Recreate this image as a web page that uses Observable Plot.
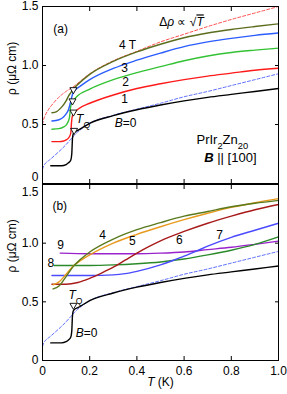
<!DOCTYPE html>
<html><head><meta charset="utf-8">
<script src="https://cdn.jsdelivr.net/npm/d3@7"></script>
<script src="https://cdn.jsdelivr.net/npm/@observablehq/plot@0.6"></script>
<style>body{margin:0;background:#fff;} #chart svg{display:block;}</style>
</head><body><div id="chart"></div>
<script>
// ---------- tick labels ----------
const xTicks = [0, 0.2, 0.4, 0.6, 0.8, 1.0];
const yTicks = [0, 0.5, 1.0, 1.5];

// ---------- panel (a): B || [100], B = 0..4 T ----------
const Ta_B0 = [0.035,0.06,0.08,0.1,0.11,0.12,0.124,0.127,0.13,0.135,0.15,0.2,0.3,0.4,0.5,0.6,0.7,0.8,0.9,1.0];
const Ra_B0 = [0.15,0.15,0.15,0.16,0.175,0.2,0.25,0.38,0.42,0.435,0.45,0.51,0.575,0.625,0.665,0.70,0.73,0.755,0.78,0.805];
const Ta_B1 = [0.04,0.07,0.09,0.1,0.11,0.115,0.12,0.123,0.127,0.135,0.15,0.2,0.3,0.4,0.5,0.6,0.7,0.8,0.9,1.0];
const Ra_B1 = [0.355,0.355,0.36,0.37,0.385,0.40,0.43,0.52,0.575,0.60,0.63,0.68,0.75,0.805,0.845,0.88,0.91,0.935,0.96,0.977];
const Ta_B2 = [0.04,0.07,0.09,0.1,0.105,0.11,0.115,0.118,0.122,0.13,0.15,0.2,0.3,0.4,0.5,0.6,0.7,0.8,0.9,1.0];
const Ra_B2 = [0.46,0.465,0.48,0.495,0.51,0.53,0.57,0.63,0.675,0.70,0.745,0.80,0.88,0.94,0.99,1.04,1.08,1.11,1.13,1.147];
const Ta_B3 = [0.04,0.07,0.09,0.1,0.11,0.115,0.12,0.125,0.13,0.14,0.16,0.2,0.3,0.4,0.5,0.6,0.7,0.8,0.9,1.0];
const Ra_B3 = [0.53,0.54,0.565,0.59,0.625,0.66,0.70,0.74,0.77,0.795,0.825,0.88,0.975,1.045,1.105,1.16,1.20,1.23,1.255,1.275];
const Ta_B4 = [0.04,0.06,0.08,0.1,0.11,0.12,0.13,0.15,0.2,0.3,0.4,0.5,0.6,0.7,0.8,0.9,1.0];
const Ra_B4 = [0.60,0.61,0.645,0.70,0.74,0.77,0.80,0.84,0.925,1.035,1.115,1.18,1.235,1.275,1.305,1.33,1.353];
// sqrt-T fits (dashed)
const T_fitRed = [0,0.005,0.01,0.02,0.03,0.05,0.08,0.1,0.13,0.2,0.3,0.4,0.5,0.6,0.7,0.8,0.9,1.0];
const R_fitRed = [0.5,0.545,0.57,0.61,0.64,0.69,0.75,0.78,0.82,0.93,1.04,1.12,1.2,1.265,1.33,1.39,1.445,1.5];
const T_fitBlue = [0,0.005,0.01,0.02,0.03,0.05,0.08,0.1,0.12,0.14,0.17,0.2,0.3,0.4,0.5,0.6,0.7,0.8,0.9,1.0];
const R_fitBlue = [0.12,0.15,0.165,0.185,0.2,0.235,0.29,0.33,0.375,0.42,0.47,0.51,0.578,0.63,0.68,0.735,0.78,0.83,0.88,0.93];
// T_Q markers
const TQa_T = [0.134,0.131,0.127,0.131];
const TQa_R = [0.45,0.605,0.70,0.795];

// ---------- panel (b): B = 4..9 T ----------
const Tb_B4 = [0.045,0.07,0.1,0.13,0.16,0.2,0.3,0.4,0.5,0.6,0.7,0.8,0.9,1.0];
const Rb_B4 = [0.61,0.635,0.715,0.80,0.86,0.925,1.035,1.115,1.175,1.23,1.27,1.31,1.34,1.365];
const Tb_B5 = [0.045,0.07,0.1,0.13,0.16,0.2,0.3,0.4,0.5,0.6,0.7,0.8,0.9,1.0];
const Rb_B5 = [0.645,0.67,0.735,0.805,0.85,0.90,1.0,1.075,1.14,1.20,1.255,1.305,1.345,1.38];
const Tb_B6 = [0.04,0.1,0.15,0.2,0.25,0.3,0.35,0.4,0.45,0.5,0.6,0.7,0.8,0.9,1.0];
const Rb_B6 = [0.65,0.65,0.665,0.70,0.745,0.795,0.855,0.915,0.97,1.02,1.10,1.17,1.23,1.285,1.33];
const Tb_B7 = [0.04,0.1,0.2,0.3,0.35,0.4,0.45,0.5,0.55,0.6,0.65,0.7,0.8,0.9,1.0];
const Rb_B7 = [0.725,0.725,0.725,0.73,0.74,0.76,0.785,0.815,0.85,0.89,0.93,0.975,1.05,1.11,1.17];
const Tb_B8 = [0.05,0.1,0.2,0.3,0.4,0.5,0.6,0.7,0.8,0.9,1.0];
const Rb_B8 = [0.81,0.81,0.81,0.815,0.825,0.84,0.865,0.90,0.94,0.99,1.054];
const Tb_B9 = [0.075,0.2,0.3,0.4,0.5,0.6,0.7,0.8,0.9,1.0];
const Rb_B9 = [0.915,0.91,0.91,0.91,0.915,0.925,0.945,0.965,0.99,1.017];
const TQb_T = [0.131];
const TQb_R = [0.47];

// ---------- annotations ----------
const labelsA = [
  {t:"(a)", x:0.077, y:1.305},
  {t:"4 T", x:0.36, y:1.17},
  {t:"3", x:0.348, y:0.975},
  {t:"2", x:0.352, y:0.856},
  {t:"1", x:0.348, y:0.712},
  {t:"<i>T</i><sub>Q</sub>", x:0.172, y:0.545},
  {t:"<i>B</i>=0", x:0.352, y:0.508},
  {t:"Δ<i>ρ</i> ∝ √<o><i>T</i></o>", x:0.589, y:1.364}
];
const labelsA2 = [
  {t:"PrIr<sub>2</sub>Zn<sub>20</sub>", x:0.762, y:0.37},
  {t:"<b><i>B</i></b> || [100]", x:0.796, y:0.215}
];
const labelsB = [
  {t:"(b)", x:0.073, y:1.313},
  {t:"4", x:0.255, y:1.066},
  {t:"5", x:0.381, y:1.015},
  {t:"6", x:0.58, y:1.023},
  {t:"7", x:0.75, y:1.066},
  {t:"9", x:0.077, y:0.98},
  {t:"8", x:0.035, y:0.827},
  {t:"<i>T</i><sub>Q</sub>", x:0.14, y:0.555},
  {t:"<i>B</i>=0", x:0.187, y:0.23}
];

const ser = (T, R) => T.map((t, i) => ({T: t, R: R[i]}));
const fmt = d => d === 0 ? "0" : d.toFixed(1);
const FONT = "Liberation Sans, Arial, sans-serif";

function line(T, R, color, dashed) {
  return Plot.line(ser(T, R), {x: "T", y: "R", stroke: color, curve: "monotone-x",
    strokeWidth: dashed ? 0.9 : 1.4, strokeDasharray: dashed ? "3,2" : null});
}
function frameAxes(top) {
  // top = true for upper panel (a)
  const lab = {anchor: "left", tickSize: 0, tickPadding: 4, tickFormat: fmt, label: null, fontSize: 12};
  const m = [
    Plot.frame({stroke: "black", strokeWidth: 1}),
    Plot.axisY(yTicks.filter(v => v > 0 && v < 1.5), lab),
    Plot.axisY([yTicks[3]], top ? lab : {...lab, dy: 8}),
    Plot.axisY([yTicks[0]], top ? {...lab, dy: -6} : lab),
    Plot.axisY(yTicks, {anchor: "left", tickSize: -4, tickFormat: () => "", label: null}),
    Plot.axisY(yTicks, {anchor: "right", tickSize: -4, tickFormat: () => "", label: null}),
    Plot.axisX(xTicks, {anchor: "top", tickSize: -4, tickFormat: () => "", label: null}),
    Plot.axisX(xTicks, {anchor: "bottom", tickSize: -4, tickFormat: () => "", label: null}),
    Plot.text(["ρ (μΩ cm)"], {frameAnchor: "left", dx: -30, rotate: -90, fontSize: 12})
  ];
  if (!top) {
    m.push(Plot.axisX(xTicks, {anchor: "bottom", tickSize: 0, tickPadding: 6, tickFormat: fmt, label: null, fontSize: 12}));
    m.push(Plot.text(["<i>T</i> (K)"], {frameAnchor: "bottom", dy: 25, fontSize: 12}));
  }
  return m;
}
function tri(T, R) {
  return Plot.dot(ser(T, R), {x: "T", y: "R", symbol: "triangle", rotate: 180, r: 2.6, stroke: "black", fill: "white", strokeWidth: 0.9});
}
const NS = "http://www.w3.org/2000/svg";
function richify(root) {
  root.querySelectorAll("text").forEach(t => {
    const s = t.textContent; if (!s.includes("<")) return;
    while (t.firstChild) t.removeChild(t.firstChild);
    const re = /<(\/?)(i|b|sub|o)>|([^<]+)/g; const st = {i:0, b:0, sub:0, o:0}; let m;
    while ((m = re.exec(s))) {
      if (m[2]) { st[m[2]] += m[1] ? -1 : 1; continue; }
      const ts = document.createElementNS(NS, "tspan"); ts.textContent = m[3];
      if (st.i) ts.setAttribute("font-style", "italic");
      if (st.b) ts.setAttribute("font-weight", "bold");
      if (st.o) ts.setAttribute("text-decoration", "overline");
      if (st.sub) { ts.setAttribute("baseline-shift", "sub"); ts.setAttribute("font-size", "0.72em"); }
      t.appendChild(ts);
    }
  });
}

const common = {width: 287, marginLeft: 42, marginRight: 9,
  x: {domain: [0, 1]}, y: {domain: [0, 1.5]},
  style: {fontFamily: FONT, fontSize: "12px", color: "black", background: "white"}};

const pa = Plot.plot({...common, height: 184, marginTop: 6, marginBottom: 1,
  marks: [
    line(T_fitRed, R_fitRed, "#ff3b3b", true),
    line(T_fitBlue, R_fitBlue, "#4a5cff", true),
    line(Ta_B0, Ra_B0, "#000000"),
    line(Ta_B1, Ra_B1, "#ff1a1a"),
    line(Ta_B2, Ra_B2, "#33c233"),
    line(Ta_B3, Ra_B3, "#2a5cff"),
    line(Ta_B4, Ra_B4, "#5b6e1e"),
    tri(TQa_T, TQa_R),
    Plot.text(labelsA, {x: "x", y: "y", text: "t", fontSize: 12}),
    Plot.text(labelsA2, {x: "x", y: "y", text: "t", fontSize: 13}),
    ...frameAxes(true)
  ]});

const pb = Plot.plot({...common, height: 210, marginTop: 0, marginBottom: 34,
  marks: [
    line(T_fitBlue, R_fitBlue, "#4a5cff", true),
    line(Ta_B0, Ra_B0, "#000000"),
    line(Tb_B9, Rb_B9, "#9a22cc"),
    line(Tb_B8, Rb_B8, "#2a8a2a"),
    line(Tb_B7, Rb_B7, "#4a4aff"),
    line(Tb_B6, Rb_B6, "#a81a1a"),
    line(Tb_B5, Rb_B5, "#e89a1c"),
    line(Tb_B4, Rb_B4, "#5b7a1e"),
    tri(TQb_T, TQb_R),
    Plot.text(labelsB, {x: "x", y: "y", text: "t", fontSize: 12}),
    ...frameAxes(false)
  ]});

const c = document.getElementById("chart");
c.appendChild(pa); c.appendChild(pb);
richify(pa); richify(pb);
</script></body></html>
